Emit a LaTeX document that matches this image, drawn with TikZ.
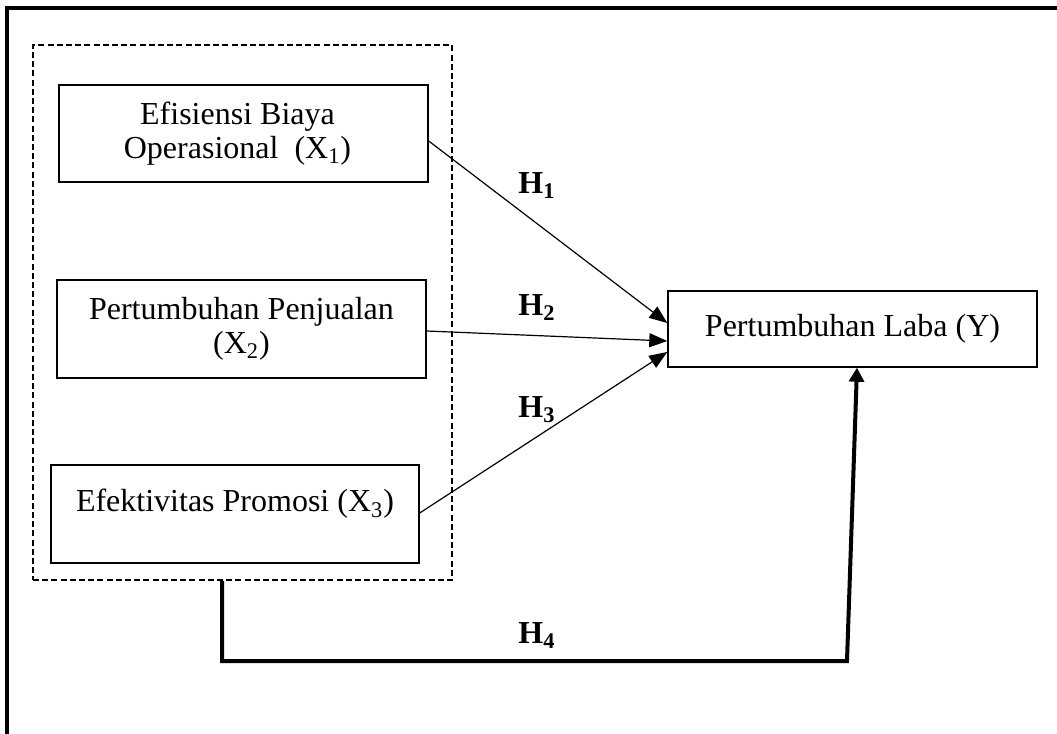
\documentclass[tikz,border=0pt]{standalone}
\usepackage{fontspec}
\setmainfont{Liberation Serif}
\usetikzlibrary{calc,arrows.meta}
\begin{document}
\begin{tikzpicture}[x=0.5pt,y=-0.5pt,
  box/.style={draw,line width=0.7pt,rectangle,inner sep=0pt,align=center,
    font=\fontsize{16}{17}\selectfont},
  lbl/.style={inner sep=0pt,font=\fontsize{16}{17}\selectfont},
  hlbl/.style={inner sep=0pt,anchor=base,font=\fontsize{16}{17}\selectfont\bfseries},
  grp/.style={draw,line width=0.75pt,dash pattern=on 3pt off 1.6pt,rectangle,inner sep=0pt},
  arr/.style={line width=0.6pt,-{Triangle[length=9pt,width=7pt]}},
  thickarr/.style={line width=2pt,-{Triangle[length=7pt,width=7.5pt]}},
  frame/.style={line width=2pt}]
\useasboundingbox (0,0) rectangle (1057,734);
\coordinate (fa) at (7,734);
\coordinate (fb) at (7,8);
\coordinate (fc) at (1060,8);
\draw[frame] (fa) -- (fb) -- (fc);

\node[grp,minimum width=209.5pt,minimum height=267.5pt] (grp) at (242.5,312.5) {};

\node[box,minimum width=184.5pt,minimum height=48.5pt] (x1) at (243.5,133.5) {};
\node[lbl,align=center] (x1t) at ($(x1.center)+(-6,0)$)
  {Efisiensi Biaya\\Operasional\ \ (X\textsubscript{1})};
\node[box,minimum width=184.5pt,minimum height=49pt] (x2) at (241.5,329)
  {Pertumbuhan Penjualan\\(X\textsubscript{2})};
\node[box,minimum width=184pt,minimum height=49pt] (x3) at (235,514) {};
\node[lbl] (x3t) at ($(x3.center)+(0,-10)$) {Efektivitas Promosi (X\textsubscript{3})};
\node[box,minimum width=184.5pt,minimum height=38pt] (y) at (852.5,329)
  {Pertumbuhan Laba (Y)};

\draw[arr] ($(x1.east)+(0,7.5)$) -- ($(y.west)+(0,-6)$);
\draw[arr] ($(x2.east)+(0,2)$) -- ($(y.west)+(0,12)$);
\draw[arr] ($(x3.east)+(0,-1)$) -- ($(y.west)+(0,23)$);

\coordinate (h4c) at (847,661);
\draw[thickarr] ($(grp.south)+(-20.5,0)$) |- (h4c) -- ($(y.south)+(4.5,0)$);

\node[hlbl] (h1) at (537,193) {H\textsubscript{1}};
\node[hlbl] (h2) at (537,315) {H\textsubscript{2}};
\node[hlbl] (h3) at (537,417) {H\textsubscript{3}};
\node[hlbl] (h4) at (537,643) {H\textsubscript{4}};
\end{tikzpicture}
\end{document}
